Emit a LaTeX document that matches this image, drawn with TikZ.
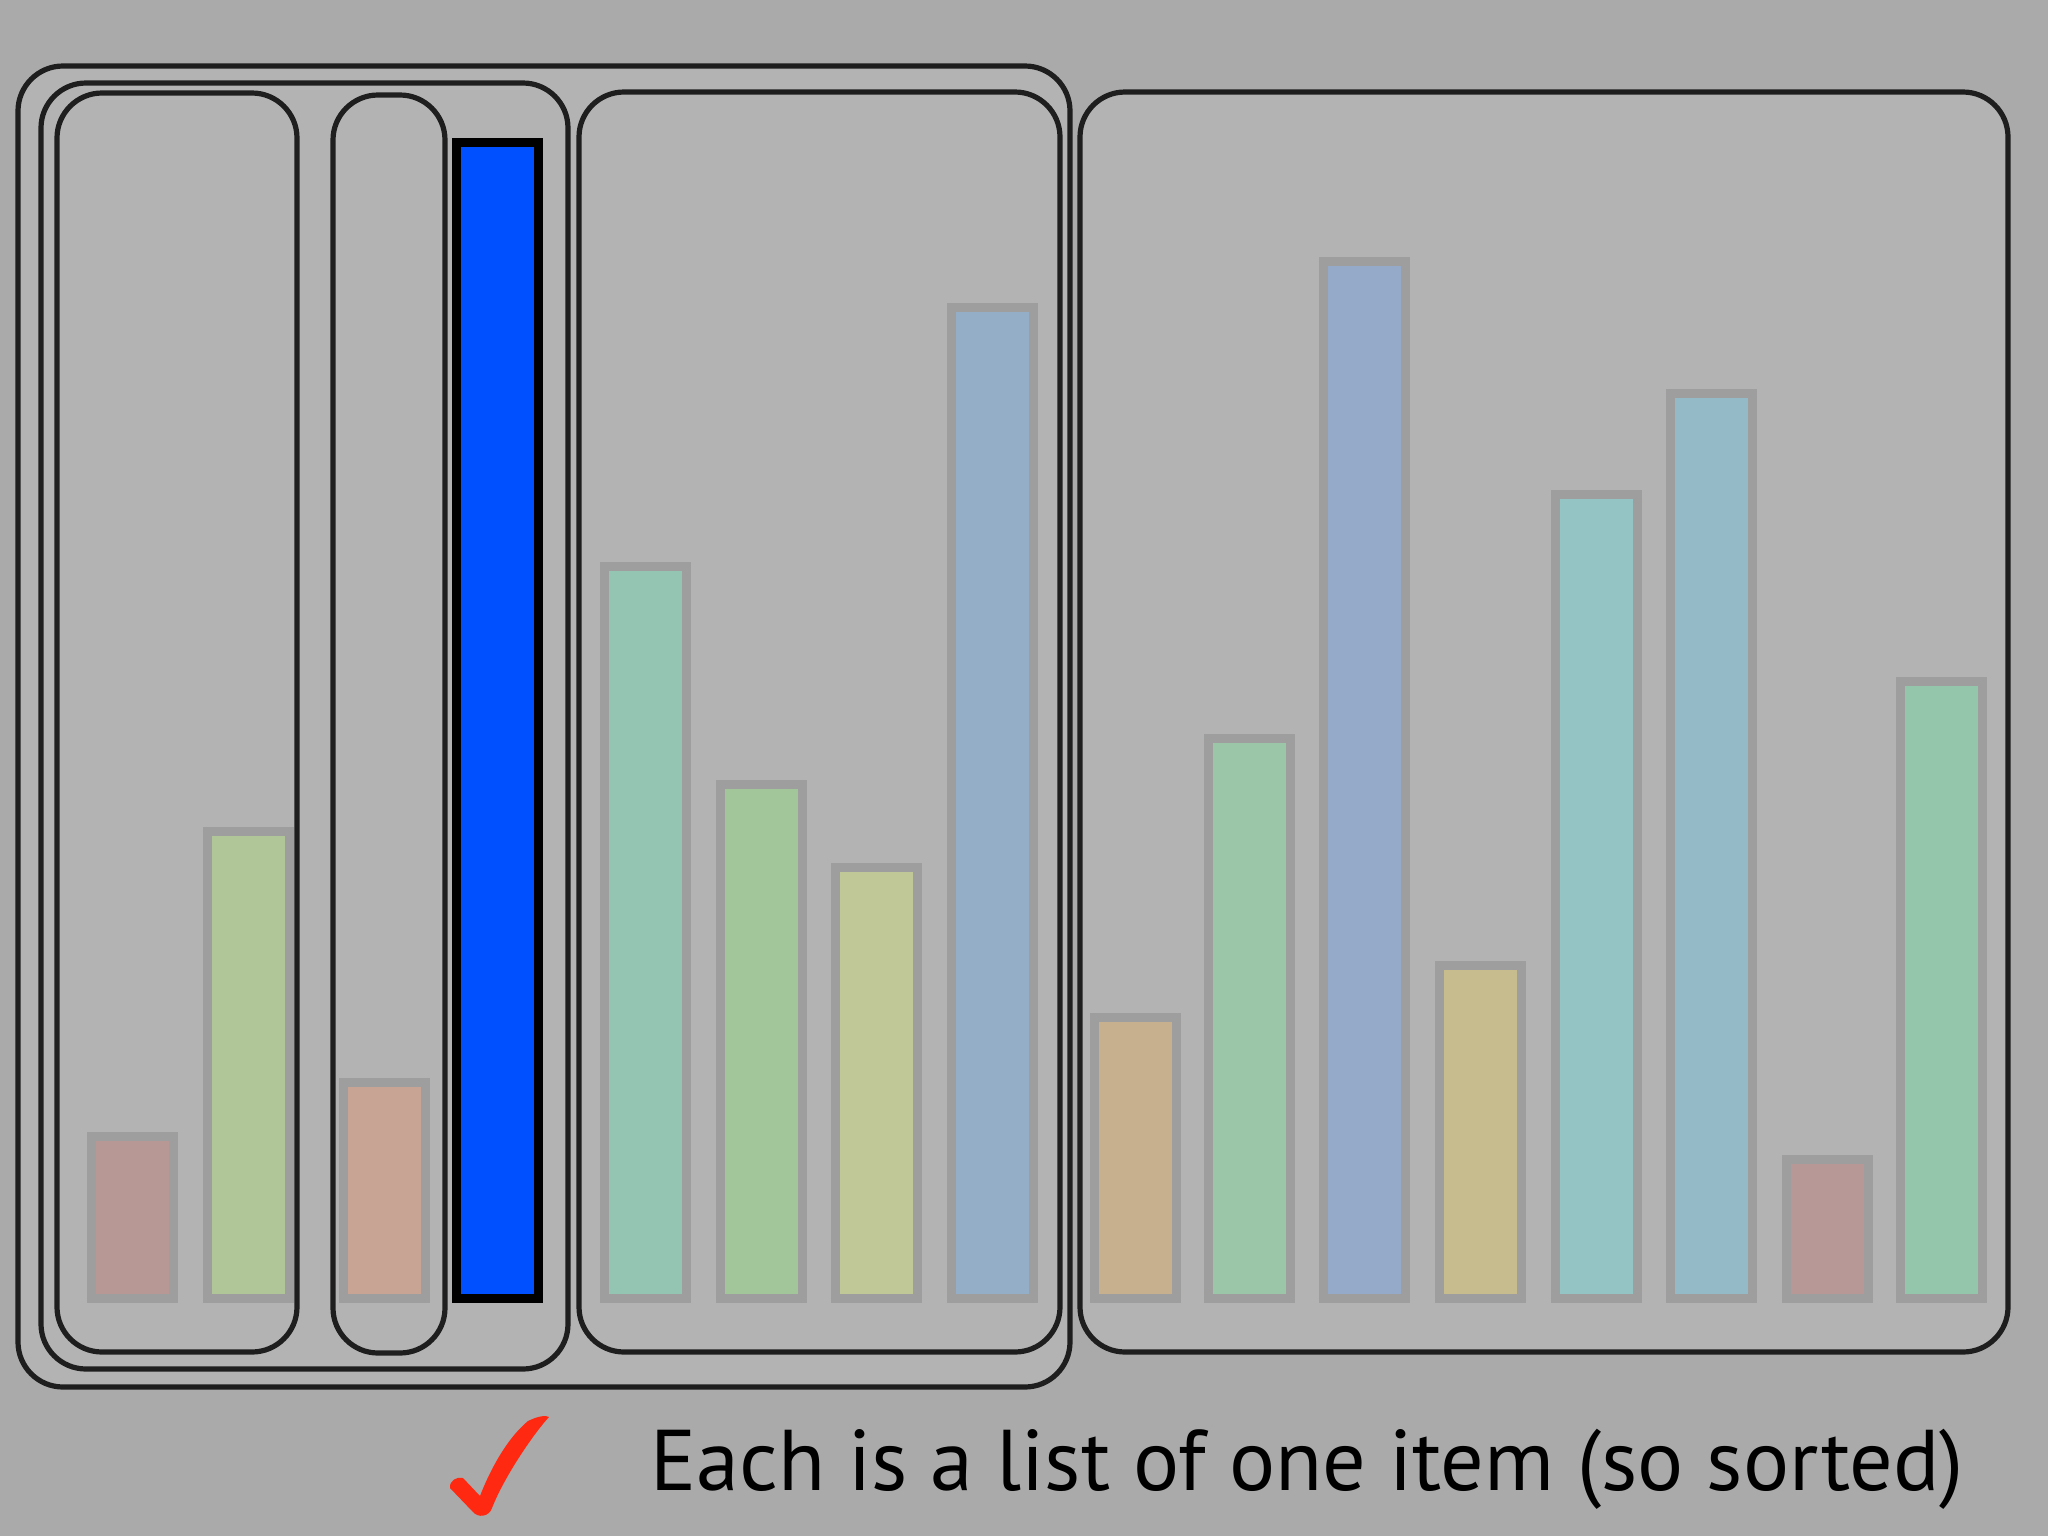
\documentclass[tikz,border=0pt]{standalone}
\usepackage{fontspec}
\setmainfont{PT Sans}
\usetikzlibrary{positioning}
\definecolor{slidebg}{RGB}{170,170,171}
\definecolor{panel}{RGB}{179,179,180}
\definecolor{frame}{RGB}{30,30,30}
\definecolor{barrim}{RGB}{158,158,159}
\definecolor{tick}{RGB}{255,40,16}
\definecolor{hot}{RGB}{0,80,255}
\definecolor{barA}{RGB}{184,152,148}
\definecolor{barB}{RGB}{176,198,152}
\definecolor{barC}{RGB}{200,164,148}
\definecolor{barE}{RGB}{148,196,178}
\definecolor{barF}{RGB}{162,198,154}
\definecolor{barG}{RGB}{192,200,152}
\definecolor{barH}{RGB}{148,174,200}
\definecolor{barI}{RGB}{198,176,142}
\definecolor{barJ}{RGB}{156,198,168}
\definecolor{barK}{RGB}{148,170,200}
\definecolor{barL}{RGB}{198,188,142}
\definecolor{barM}{RGB}{148,196,196}
\definecolor{barN}{RGB}{148,186,200}
\definecolor{barO}{RGB}{184,152,150}
\definecolor{barP}{RGB}{148,198,172}
\tikzstyle{group} = [draw=frame, line width=0.052cm, rounded corners=0.45cm]
\tikzstyle{bar} = [draw=barrim, line width=0.09cm]
\tikzstyle{hotbar} = [draw=black, fill=hot, line width=0.09cm]
\tikzstyle{caption} = [anchor=base west, inner sep=0pt, font=\fontsize{24.5}{30}\selectfont]

\begin{document}
\begin{tikzpicture}[x=0.01cm, y=-0.01cm]
  \useasboundingbox (0,0) rectangle (2048,1536);
  \fill[slidebg] (0,0) rectangle (2048,1536);
  % nested groups
  \draw[group, fill=panel] (18,66) rectangle (1070,1387);
  \draw[group] (41,83) rectangle (568,1369);
  \draw[group] (57,93) rectangle (297,1352);
  \draw[group] (333,95) rectangle (445,1353);
  \draw[group, fill=panel] (579,92) rectangle (1060,1352);
  \draw[group, fill=panel] (1080,92) rectangle (2008,1352);
  % faded bars
  \foreach \x/\t/\c in {87/1132/barA, 203/827/barB, 339/1078/barC,
      600/562/barE, 716/780/barF, 831/863/barG, 947/303/barH,
      1090/1013/barI, 1204/734/barJ, 1319/257/barK, 1435/961/barL,
      1551/490/barM, 1666/389/barN, 1782/1155/barO, 1896/677/barP}
    \draw[bar, fill=\c] (\x+4.5,\t+4.5) rectangle (\x+86.5,1298.5);
  % current bar
  \draw[hotbar] (456.5,142.5) rectangle (538.5,1298.5);
  % tick and caption
  \fill[tick] (450,1488) .. controls (449,1481) and (457,1476) .. (463,1478)
    -- (480,1496) .. controls (488,1475) and (505,1440) .. (528,1421)
    .. controls (538,1416) and (546,1415) .. (549,1417)
    .. controls (535,1432) and (505,1475) .. (492,1508)
    .. controls (489,1517) and (478,1518) .. (473,1512) -- cycle;
  \node (caption) [caption] at (650,1490) {Each is a list of one item (so sorted)};
\end{tikzpicture}
\end{document}
